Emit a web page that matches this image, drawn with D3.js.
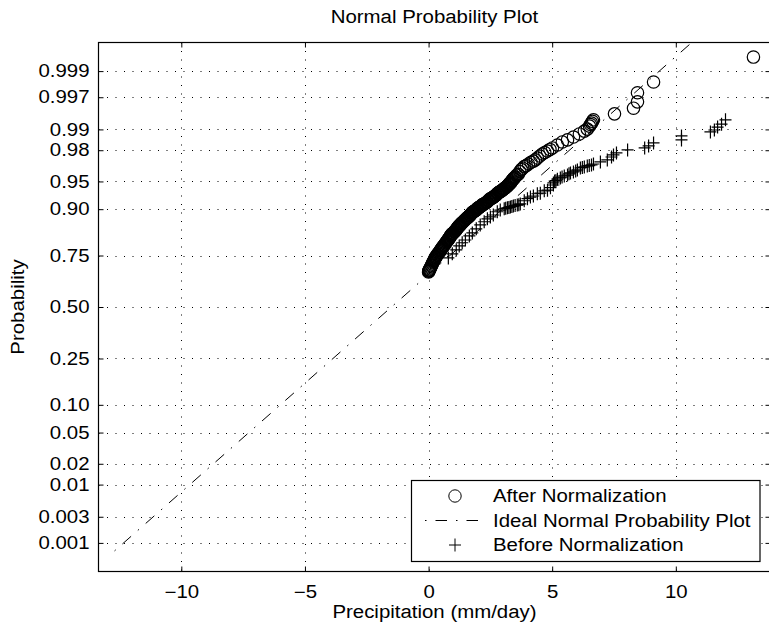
<!DOCTYPE html>
<html>
<head>
<meta charset="utf-8">
<script src="https://cdn.jsdelivr.net/npm/d3@7"></script>
<style>
  body { margin: 0; background: #fff; }
  svg { display: block; }
  text { font-family: "Liberation Sans", Arial, Helvetica, sans-serif; font-size: 17.6px; fill: #000; }
</style>
</head>
<body>
<div id="chart"></div>
<script>
// probability axis ticks
const pTicks = [0.001, 0.003, 0.01, 0.02, 0.05, 0.10, 0.25, 0.50, 0.75, 0.90, 0.95, 0.98, 0.99, 0.997, 0.999];
const pTickLabels = ['0.001', '0.003', '0.01', '0.02', '0.05', '0.10', '0.25', '0.50', '0.75', '0.90', '0.95', '0.98', '0.99', '0.997', '0.999'];
const xTicks = [-10, -5, 0, 5, 10];

// After Normalization (circles): precipitation, probability
const afterX = [0.00, 0.01, 0.02, 0.025, 0.03, 0.05, 0.07, 0.09, 0.11, 0.13, 0.15, 0.17, 0.19, 0.21, 0.23, 0.25,
  0.27, 0.29, 0.31, 0.33, 0.35, 0.38, 0.41, 0.44, 0.47, 0.49, 0.51, 0.53, 0.55, 0.57, 0.60, 0.62, 0.64, 0.67,
  0.70, 0.73, 0.76, 0.78, 0.80, 0.82, 0.84, 0.86, 0.88, 0.90, 0.92, 0.94, 0.96, 0.98, 1.00, 1.03, 1.06, 1.09,
  1.12, 1.14, 1.16, 1.18, 1.20, 1.22, 1.24, 1.26, 1.28, 1.31, 1.34, 1.37, 1.40, 1.43, 1.46, 1.49, 1.53, 1.55,
  1.57, 1.59, 1.61, 1.64, 1.67, 1.70, 1.73, 1.75, 1.77, 1.79, 1.81, 1.84, 1.87, 1.90, 1.93, 1.95, 1.97, 1.99,
  2.01, 2.04, 2.07, 2.10, 2.13, 2.16, 2.19, 2.22, 2.26, 2.29, 2.32, 2.35, 2.38, 2.41, 2.44, 2.47, 2.50, 2.53,
  2.56, 2.59, 2.62, 2.65, 2.68, 2.71, 2.74, 2.77, 2.80, 2.83, 2.86, 2.89, 2.92, 2.95, 2.98, 3.01, 3.04, 3.07,
  3.11, 3.14, 3.17, 3.20, 3.23, 3.25, 3.27, 3.29, 3.31, 3.33, 3.35, 3.37, 3.39, 3.42, 3.45, 3.48, 3.51, 3.57,
  3.63, 3.69, 3.75, 3.81, 3.87, 3.95, 4.04, 4.14, 4.24, 4.32, 4.40, 4.50, 4.60, 4.70, 4.81, 4.91, 5.01, 5.21,
  5.41, 5.62, 5.86, 6.10, 6.30, 6.42, 6.51, 6.55, 6.59, 6.63, 6.67, 7.52, 8.29, 8.45, 8.45, 9.10, 13.14];
const afterP = [0.677, 0.680, 0.682, 0.685, 0.687, 0.691, 0.695, 0.700, 0.705, 0.709, 0.714, 0.719, 0.723, 0.727, 0.731, 0.736,
  0.740, 0.743, 0.746, 0.750, 0.753, 0.757, 0.761, 0.765, 0.769, 0.772, 0.775, 0.778, 0.781, 0.784, 0.787, 0.790, 0.792, 0.796,
  0.800, 0.804, 0.807, 0.810, 0.812, 0.815, 0.817, 0.820, 0.823, 0.826, 0.828, 0.830, 0.831, 0.833, 0.834, 0.837, 0.839, 0.842,
  0.844, 0.847, 0.849, 0.851, 0.853, 0.855, 0.856, 0.858, 0.859, 0.862, 0.864, 0.866, 0.868, 0.870, 0.872, 0.874, 0.876, 0.878,
  0.879, 0.880, 0.881, 0.883, 0.885, 0.887, 0.889, 0.891, 0.892, 0.893, 0.894, 0.895, 0.896, 0.897, 0.898, 0.900, 0.901, 0.902,
  0.903, 0.904, 0.905, 0.906, 0.907, 0.909, 0.910, 0.911, 0.912, 0.913, 0.914, 0.915, 0.916, 0.918, 0.919, 0.921, 0.922, 0.9225,
  0.923, 0.924, 0.925, 0.926, 0.927, 0.928, 0.929, 0.931, 0.932, 0.933, 0.934, 0.9345, 0.935, 0.936, 0.937, 0.938, 0.939, 0.940,
  0.941, 0.942, 0.943, 0.944, 0.945, 0.946, 0.947, 0.9475, 0.948, 0.949, 0.950, 0.951, 0.952, 0.953, 0.954, 0.955, 0.956, 0.958,
  0.959, 0.962, 0.964, 0.9655, 0.967, 0.968, 0.9695, 0.971, 0.972, 0.973, 0.9745, 0.976, 0.9775, 0.9785, 0.9795, 0.9805, 0.9814, 0.9831,
  0.9847, 0.9857, 0.9870, 0.9883, 0.9894, 0.9901, 0.9911, 0.9916, 0.9920, 0.9925, 0.9929, 0.9943, 0.9954, 0.9964, 0.9975, 0.9984, 0.99947];

// Before Normalization (pluses)
const beforeX = [0.80, 0.96, 1.12, 1.24, 1.36, 1.49, 1.65, 1.77, 1.93, 2.09, 2.25, 2.38, 2.50, 2.62, 2.78, 2.90,
  3.06, 3.12, 3.19, 3.25, 3.31, 3.37, 3.43, 3.50, 3.59, 3.65, 3.71, 3.87, 4.00, 4.12, 4.24, 4.40, 4.52, 4.68,
  4.81, 4.93, 5.05, 5.05, 5.10, 5.15, 5.21, 5.33, 5.40, 5.49, 5.62, 5.68, 5.74, 5.86, 5.95, 6.02, 6.14, 6.22,
  6.30, 6.42, 6.50, 6.59, 6.67, 6.95, 7.23, 7.40, 7.48, 7.60, 8.05, 8.74, 8.90, 9.10, 10.23, 10.23, 11.40, 11.56,
  11.69, 11.85, 12.01];
const beforeP = [0.740, 0.757, 0.773, 0.788, 0.800, 0.810, 0.824, 0.834, 0.847, 0.859, 0.868, 0.876, 0.881, 0.886, 0.894, 0.898,
  0.901, 0.902, 0.903, 0.904, 0.905, 0.906, 0.907, 0.908, 0.909, 0.910, 0.9115, 0.918, 0.922, 0.925, 0.927, 0.931, 0.932, 0.936,
  0.937, 0.941, 0.945, 0.948, 0.9506, 0.951, 0.953, 0.9546, 0.9556, 0.957, 0.958, 0.9595, 0.9605, 0.9616, 0.9627, 0.9637, 0.9657, 0.9662,
  0.9667, 0.9677, 0.968, 0.9686, 0.9695, 0.9713, 0.973, 0.9753, 0.9768, 0.9782, 0.9802, 0.9814, 0.9826, 0.9842, 0.9857, 0.9875, 0.9891, 0.9898,
  0.9908, 0.9917, 0.9929];

// ideal normal probability line (end points)
const idealX = [-12.7, 10.7];
const idealP = [0.0007, 0.99975];

const legendLabels = ['After Normalization', 'Ideal Normal Probability Plot', 'Before Normalization'];

// inverse normal cdf (Acklam)
function probit(p) {
  const a = [-39.69683028665376, 220.9460984245205, -275.9285104469687, 138.3577518672690, -30.66479806614716, 2.506628277459239];
  const b = [-54.47609879822406, 161.5858368580409, -155.6989798598866, 66.80131188771972, -13.28068155288572];
  const c = [-0.007784894002430293, -0.3223964580411365, -2.400758277161838, -2.549732539343734, 4.374664141464968, 2.938163982698783];
  const d = [0.007784695709041462, 0.3224671290700398, 2.445134137142996, 3.754408661907416];
  const pl = 0.02425;
  let q, r;
  if (p < pl) {
    q = Math.sqrt(-2 * Math.log(p));
    return (((((c[0]*q+c[1])*q+c[2])*q+c[3])*q+c[4])*q+c[5]) / ((((d[0]*q+d[1])*q+d[2])*q+d[3])*q+1);
  }
  if (p > 1 - pl) {
    q = Math.sqrt(-2 * Math.log(1 - p));
    return -(((((c[0]*q+c[1])*q+c[2])*q+c[3])*q+c[4])*q+c[5]) / ((((d[0]*q+d[1])*q+d[2])*q+d[3])*q+1);
  }
  q = p - 0.5; r = q * q;
  return (((((a[0]*r+a[1])*r+a[2])*r+a[3])*r+a[4])*r+a[5])*q / (((((b[0]*r+b[1])*r+b[2])*r+b[3])*r+b[4])*r+1);
}

const width = 769, height = 625;
const area = { left: 98.5, right: 770.5, top: 42.5, bottom: 571.5 };

const svg = d3.select("#chart").append("svg")
  .attr("width", width)
  .attr("height", height);

const xScale = d3.scaleLinear().domain([-13.35, 13.83]).range([area.left, area.right]);
const zScale = d3.scaleLinear().domain([-3.465, 3.465]).range([area.bottom, area.top]);
const yScale = p => zScale(probit(p));

svg.append("defs").append("clipPath").attr("id", "clip")
  .append("rect")
  .attr("x", area.left).attr("y", area.top)
  .attr("width", area.right - area.left).attr("height", area.bottom - area.top);

// grid
const grid = svg.append("g").attr("class", "grid")
  .attr("stroke", "#000").attr("stroke-width", 1).attr("stroke-dasharray", "1,7.5");
grid.selectAll("line.h").data(pTicks).join("line").attr("class", "h")
  .attr("x1", area.left).attr("x2", area.right)
  .attr("y1", d => Math.round(yScale(d)) + 0.5).attr("y2", d => Math.round(yScale(d)) + 0.5);
grid.selectAll("line.v").data(xTicks).join("line").attr("class", "v")
  .attr("y1", area.top).attr("y2", area.bottom)
  .attr("x1", d => Math.round(xScale(d)) + 0.5).attr("x2", d => Math.round(xScale(d)) + 0.5);

// axes
const xAxis = d3.axisBottom(xScale).tickValues(xTicks).tickSizeInner(-5).tickSizeOuter(0)
  .tickPadding(14).tickFormat(d => d < 0 ? "\u2212" + Math.abs(d) : d);
svg.append("g").attr("transform", `translate(0,${area.bottom})`).call(xAxis);
svg.append("g").attr("transform", `translate(0,${area.top})`)
  .call(d3.axisTop(xScale).tickValues(xTicks).tickSizeInner(-5).tickSizeOuter(0).tickFormat(""));

const yAxis = d3.axisLeft(zScale).tickValues(pTicks.map(probit)).tickSizeInner(-5).tickSizeOuter(0)
  .tickPadding(9).tickFormat((d, i) => pTickLabels[i]);
svg.append("g").attr("transform", `translate(${area.left},0)`).call(yAxis);
svg.append("g").attr("transform", `translate(${area.right},0)`)
  .call(d3.axisRight(zScale).tickValues(pTicks.map(probit)).tickSizeInner(-5).tickSizeOuter(0).tickFormat(""));

svg.selectAll(".domain").remove();
svg.selectAll(".tick line").attr("stroke", "#000");
svg.selectAll(".tick text").attr("font-size", null).attr("font-family", null);

// box
svg.append("rect")
  .attr("x", area.left).attr("y", area.top)
  .attr("width", area.right - area.left).attr("height", area.bottom - area.top)
  .attr("fill", "none").attr("stroke", "#000").attr("stroke-width", 1.2);

const plot = svg.append("g").attr("clip-path", "url(#clip)");

// after normalization circles
plot.append("g").selectAll("circle")
  .data(afterX.map((x, i) => [x, afterP[i]]))
  .join("circle")
  .attr("cx", d => xScale(d[0]))
  .attr("cy", d => yScale(d[1]))
  .attr("r", 6.2)
  .attr("fill", "none")
  .attr("stroke", "#000")
  .attr("stroke-width", 1.2);

// ideal line
const line = d3.line().x(d => xScale(d[0])).y(d => yScale(d[1]));
plot.append("path")
  .datum(idealX.map((x, i) => [x, idealP[i]]))
  .attr("d", line)
  .attr("fill", "none")
  .attr("stroke", "#000")
  .attr("stroke-width", 1)
  .attr("stroke-dasharray", "1.5,9,11.5,9");

// before normalization pluses
plot.append("g").selectAll("path")
  .data(beforeX.map((x, i) => [x, beforeP[i]]))
  .join("path")
  .attr("d", d => {
    const cx = xScale(d[0]), cy = yScale(d[1]);
    return `M${cx - 6},${cy}H${cx + 6}M${cx},${cy - 6.5}V${cy + 6.5}`;
  })
  .attr("stroke", "#000")
  .attr("stroke-width", 1.2);

// labels
svg.append("text").attr("x", (area.left + area.right) / 2).attr("y", 23)
  .attr("text-anchor", "middle").text("Normal Probability Plot");
svg.append("text").attr("x", (area.left + area.right) / 2).attr("y", 618)
  .attr("text-anchor", "middle").text("Precipitation (mm/day)");
svg.append("text").attr("transform", `translate(24,${(area.top + area.bottom) / 2}) rotate(-90)`)
  .attr("text-anchor", "middle").text("Probability");

// legend
const leg = svg.append("g");
leg.append("rect").attr("x", 411.5).attr("y", 480.5).attr("width", 348.5).attr("height", 81)
  .attr("fill", "#fff").attr("stroke", "#000").attr("stroke-width", 1.2);
const rowY = [496, 520.5, 545];
leg.append("circle").attr("cx", 455).attr("cy", rowY[0]).attr("r", 6.2)
  .attr("fill", "none").attr("stroke", "#000");
leg.append("line").attr("x1", 425).attr("x2", 486).attr("y1", rowY[1]).attr("y2", rowY[1])
  .attr("stroke", "#000").attr("stroke-dasharray", "1.5,9,11.5,9");
leg.append("path").attr("d", `M${449},${rowY[2]}H${461}M${455},${rowY[2] - 6.5}V${rowY[2] + 6.5}`)
  .attr("stroke", "#000");
leg.selectAll("text.lg").data(legendLabels).join("text").attr("class", "lg")
  .attr("x", 493).attr("y", (d, i) => rowY[i] + 6.3).text(d => d);

// the reference text is a bit wider than Arial; stretch glyphs to match
svg.selectAll("text").each(function () {
  const w = this.getComputedTextLength();
  if (w > 0) {
    this.setAttribute("textLength", w * 1.16);
    this.setAttribute("lengthAdjust", "spacingAndGlyphs");
  }
});
</script>
</body>
</html>
